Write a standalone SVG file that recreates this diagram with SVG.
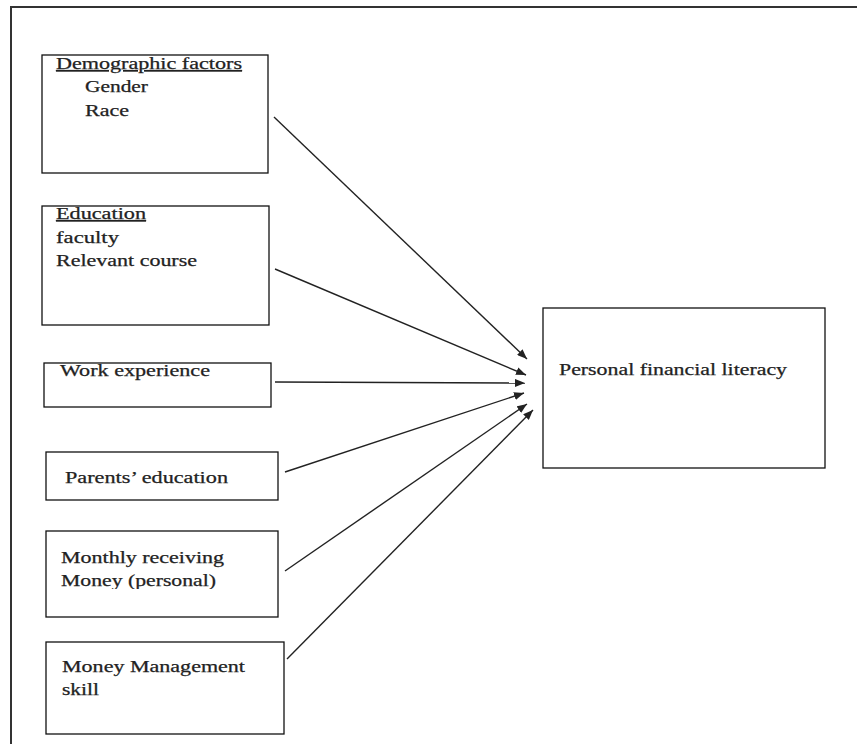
<svg xmlns="http://www.w3.org/2000/svg" width="857" height="744" viewBox="0 0 857 744">
<style>
.box{fill:#fff;stroke:#111;stroke-width:1.3}
.t{font-family:'Liberation Serif','Times New Roman',Times,serif;font-size:16px;fill:#222;stroke:#222;stroke-width:0.25}
.u{text-decoration:underline}
.c{stroke:#222;stroke-width:1.4;fill:none;marker-end:url(#ah)}
</style>
<defs>
<marker id="ah" viewBox="0 0 10 8" refX="10" refY="4" markerWidth="10" markerHeight="8" markerUnits="userSpaceOnUse" orient="auto">
<path d="M0,0 L10,4 L0,8 Z" fill="#222"/>
</marker>
<clipPath id="clipM"><rect x="50" y="570" width="220" height="19"/></clipPath>
</defs>
<rect x="0" y="0" width="857" height="744" fill="#fff"/>
<rect id="frame" x="11" y="7" width="900" height="800" fill="none" stroke="#333" stroke-width="2"/>
<g id="connectors">
<line class="c" x1="274" y1="117" x2="527" y2="359"/>
<line class="c" x1="275" y1="269" x2="526" y2="375"/>
<line class="c" x1="275" y1="382" x2="525" y2="383"/>
<line class="c" x1="285" y1="472" x2="524" y2="393"/>
<line class="c" x1="285" y1="571" x2="527" y2="404"/>
<line class="c" x1="287" y1="659" x2="533" y2="410"/>
</g>
<g id="demographic">
<rect class="box" x="42" y="55" width="226" height="118"/>
<text class="t u" x="56" y="69" textLength="186" lengthAdjust="spacingAndGlyphs">Demographic factors</text>
<text class="t" x="85" y="92" textLength="63" lengthAdjust="spacingAndGlyphs">Gender</text>
<text class="t" x="85" y="116" textLength="44" lengthAdjust="spacingAndGlyphs">Race</text>
</g>
<g id="education">
<rect class="box" x="42" y="206" width="227" height="119"/>
<text class="t u" x="56" y="219" textLength="90" lengthAdjust="spacingAndGlyphs">Education</text>
<text class="t" x="56" y="243" textLength="63" lengthAdjust="spacingAndGlyphs">faculty</text>
<text class="t" x="56" y="266" textLength="141" lengthAdjust="spacingAndGlyphs">Relevant course</text>
</g>
<g id="work">
<rect class="box" x="44" y="363" width="227" height="44"/>
<text class="t" x="60" y="376" textLength="150" lengthAdjust="spacingAndGlyphs">Work experience</text>
</g>
<g id="parents">
<rect class="box" x="46" y="452" width="232" height="48"/>
<text class="t" x="65" y="483" textLength="163" lengthAdjust="spacingAndGlyphs">Parents’ education</text>
</g>
<g id="monthly">
<rect class="box" x="46" y="531" width="232" height="86"/>
<text class="t" x="61" y="563" textLength="163" lengthAdjust="spacingAndGlyphs">Monthly receiving</text>
<text class="t" x="61" y="586" textLength="155" lengthAdjust="spacingAndGlyphs" clip-path="url(#clipM)">Money (personal)</text>
</g>
<g id="money">
<rect class="box" x="46" y="642" width="238" height="92"/>
<text class="t" x="62" y="672" textLength="183" lengthAdjust="spacingAndGlyphs">Money Management</text>
<text class="t" x="62" y="695" textLength="37" lengthAdjust="spacingAndGlyphs">skill</text>
</g>
<g id="literacy">
<rect class="box" x="543" y="308" width="282" height="160"/>
<text class="t" x="559" y="375" textLength="228" lengthAdjust="spacingAndGlyphs">Personal financial literacy</text>
</g>
</svg>
